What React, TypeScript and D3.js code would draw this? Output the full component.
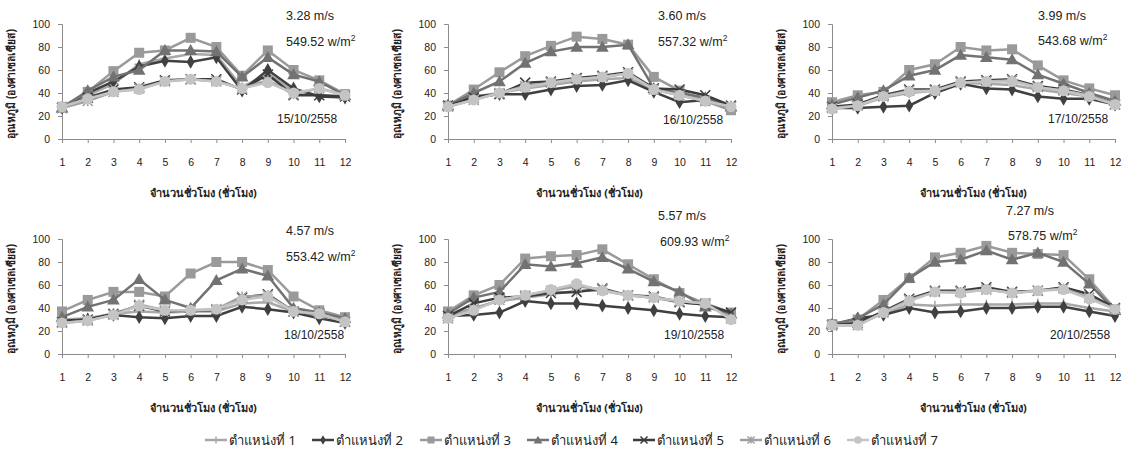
import React, { useEffect, useRef } from 'react';
import * as d3 from 'd3';

const hours = [1, 2, 3, 4, 5, 6, 7, 8, 9, 10, 11, 12];
const yTicks = [0, 20, 40, 60, 80, 100];
const seriesNames = ['ตำแหน่งที่ 1', 'ตำแหน่งที่ 2', 'ตำแหน่งที่ 3', 'ตำแหน่งที่ 4', 'ตำแหน่งที่ 5', 'ตำแหน่งที่ 6', 'ตำแหน่งที่ 7'];
const dates = ['15/10/2558', '16/10/2558', '17/10/2558', '18/10/2558', '19/10/2558', '20/10/2558'];
const windSpeeds = ['3.28', '3.60', '3.99', '4.57', '5.57', '7.27'];
const radiation = ['549.52', '557.32', '543.68', '553.42', '609.93', '578.75'];

// each day: 7 series (position 1..7), 12 hourly values
const day1 = [
  [27, 38, 48, 65, 70, 74, 73, 45, 57, 42, 38, 37],
  [27, 40, 50, 63, 68, 67, 71, 42, 60, 44, 37, 36],
  [28, 41, 59, 75, 77, 88, 80, 55, 77, 60, 51, 39],
  [27, 42, 54, 60, 77, 77, 76, 54, 71, 56, 50, 38],
  [27, 36, 43, 45, 51, 52, 52, 43, 56, 38, 38, 37],
  [27, 33, 41, 44, 50, 52, 50, 44, 51, 39, 44, 38],
  [28, 35, 41, 43, 50, 52, 50, 44, 49, 40, 44, 38],
];
const day2 = [
  [29, 37, 40, 44, 47, 50, 52, 53, 43, 40, 35, 29],
  [29, 37, 39, 39, 43, 46, 47, 51, 41, 32, 34, 27],
  [29, 43, 58, 72, 81, 89, 87, 82, 54, 42, 33, 25],
  [29, 40, 50, 66, 76, 80, 80, 82, 44, 40, 36, 28],
  [29, 36, 39, 49, 50, 53, 55, 58, 44, 43, 38, 29],
  [28, 34, 40, 46, 49, 52, 54, 57, 43, 38, 33, 28],
  [28, 34, 40, 45, 49, 52, 54, 57, 43, 38, 33, 28],
];
const day3 = [
  [28, 29, 36, 40, 42, 49, 48, 47, 43, 40, 37, 31],
  [27, 27, 28, 29, 40, 48, 44, 43, 37, 35, 35, 30],
  [32, 38, 41, 60, 65, 80, 77, 78, 64, 51, 44, 38],
  [30, 36, 42, 55, 60, 73, 71, 69, 56, 48, 40, 33],
  [28, 30, 38, 43, 43, 50, 51, 52, 46, 43, 38, 30],
  [27, 29, 37, 42, 42, 49, 50, 51, 45, 42, 38, 30],
  [26, 29, 37, 41, 42, 49, 50, 50, 45, 42, 37, 30],
];
const day4 = [
  [30, 31, 35, 37, 36, 37, 37, 44, 45, 37, 34, 29],
  [29, 30, 34, 32, 31, 33, 33, 41, 39, 36, 31, 27],
  [37, 47, 54, 54, 50, 70, 80, 80, 73, 50, 38, 32],
  [32, 41, 47, 65, 47, 40, 64, 74, 68, 40, 36, 31],
  [28, 30, 35, 42, 37, 38, 38, 49, 52, 37, 35, 28],
  [27, 29, 34, 43, 38, 38, 39, 50, 51, 37, 35, 28],
  [27, 29, 34, 42, 38, 38, 39, 47, 50, 37, 35, 28],
];
const day5 = [
  [33, 40, 46, 49, 52, 55, 55, 51, 49, 45, 43, 34],
  [33, 34, 36, 46, 44, 44, 42, 40, 38, 35, 33, 32],
  [37, 51, 60, 83, 85, 86, 91, 78, 65, 53, 44, 36],
  [35, 49, 54, 78, 76, 79, 84, 74, 63, 54, 41, 35],
  [33, 44, 49, 50, 53, 54, 57, 51, 50, 45, 43, 36],
  [31, 39, 47, 51, 55, 59, 56, 51, 49, 46, 44, 31],
  [31, 38, 47, 51, 56, 61, 55, 51, 49, 46, 44, 30],
];
const day6 = [
  [25, 29, 35, 43, 42, 43, 43, 43, 44, 44, 40, 37],
  [25, 31, 34, 40, 36, 37, 40, 40, 41, 41, 37, 33],
  [26, 30, 47, 66, 84, 88, 94, 88, 87, 86, 65, 39],
  [26, 31, 43, 66, 80, 82, 90, 82, 88, 80, 61, 38],
  [25, 27, 37, 48, 55, 55, 58, 54, 55, 58, 52, 40],
  [25, 25, 36, 47, 54, 54, 56, 53, 55, 57, 49, 39],
  [25, 25, 36, 46, 54, 53, 56, 53, 55, 56, 48, 39],
];
const days = [day1, day2, day3, day4, day5, day6];

const colors = ['#a8a8a8', '#404040', '#9a9a9a', '#727272', '#3c3c3c', '#a0a0a0', '#c4c4c4'];
const markers = ['plus', 'diamond', 'square', 'triangle', 'x', 'star', 'circle'];

const W = 1126;
const H = 452;
const panelLeft = [62, 448, 832];
const panelTop = [24, 239];
const pw = 283;
const ph = 115;

// text anchor spots (page px) for the notes inside each panel
const speedPos = [[286, 20], [658, 20], [1038, 20], [286, 235], [658, 220], [1006, 215]];
const radPos = [[286, 46], [658, 46], [1038, 45], [286, 261], [660, 246], [1008, 240]];
const datePos = [[277, 123], [663, 124], [1048, 123], [284, 339], [664, 339], [1050, 339]];

function drawMarker(g: any, type: string, x: number, y: number, color: string, s = 1) {
  if (type === 'square') {
    g.append('rect').attr('x', x - 5 * s).attr('y', y - 5 * s).attr('width', 10 * s).attr('height', 10 * s).attr('fill', color);
  } else if (type === 'diamond') {
    g.append('path').attr('d', d3.symbol(d3.symbolDiamond, 55 * s * s)()).attr('transform', `translate(${x},${y})`).attr('fill', color);
  } else if (type === 'triangle') {
    g.append('path').attr('d', d3.symbol(d3.symbolTriangle, 70 * s * s)()).attr('transform', `translate(${x},${y + 1})`).attr('fill', color);
  } else if (type === 'circle') {
    g.append('circle').attr('cx', x).attr('cy', y).attr('r', 5.5 * s).attr('fill', color);
  } else if (type === 'plus') {
    const r = 5 * s;
    g.append('path').attr('d', `M${x - r},${y}H${x + r}M${x},${y - r}V${y + r}`).attr('stroke', color).attr('stroke-width', 1.5);
  } else if (type === 'x') {
    const r = 5 * s;
    g.append('path').attr('d', `M${x - r},${y - r}L${x + r},${y + r}M${x - r},${y + r}L${x + r},${y - r}`).attr('stroke', color).attr('stroke-width', 1.5);
  } else if (type === 'star') {
    const r = 5 * s;
    g.append('path').attr('d', `M${x - r},${y - r}L${x + r},${y + r}M${x - r},${y + r}L${x + r},${y - r}M${x},${y - r}V${y + r}`).attr('stroke', color).attr('stroke-width', 1.5);
  }
}

const App = () => {
  const ref = useRef<SVGSVGElement>(null);

  useEffect(() => {
    const svg = d3.select(ref.current);
    svg.selectAll('*').remove();
    svg.attr('width', W).attr('height', H);

    days.forEach((day, i) => {
      const left = panelLeft[i % 3];
      const top = panelTop[Math.floor(i / 3)];
      const x = d3.scalePoint<number>().domain(hours).range([left, left + pw]);
      const y = d3.scaleLinear().domain([0, 100]).range([top + ph, top]);
      const g = svg.append('g');

      // y axis
      g.append('g')
        .attr('transform', `translate(${left},0)`)
        .call(d3.axisLeft(y).tickValues(yTicks).tickSize(4).tickPadding(8))
        .call((a: any) => a.selectAll('line,path').attr('stroke', '#8c8c8c'))
        .call((a: any) => a.selectAll('text').attr('font-size', 10.5).attr('font-family', 'Liberation Sans, Arial, sans-serif').attr('fill', '#222'));

      // x axis
      g.append('g')
        .attr('transform', `translate(0,${top + ph})`)
        .call(d3.axisBottom(x).tickSize(4).tickPadding(16).tickSizeOuter(0))
        .call((a: any) => a.selectAll('line,path').attr('stroke', '#8c8c8c'))
        .call((a: any) => a.selectAll('text').attr('font-size', 10.5).attr('font-family', 'Liberation Sans, Arial, sans-serif').attr('fill', '#222'));

      // axis titles
      g.append('text')
        .attr('x', left + pw / 2)
        .attr('y', top + ph + 58)
        .attr('text-anchor', 'middle')
        .attr('font-size', 11)
        .attr('font-weight', 'bold')
        .attr('font-family', 'Noto Sans, Liberation Sans, sans-serif')
        .attr('fill', '#222')
        .text('จำนวนชั่วโมง (ชั่วโมง)');
      g.append('text')
        .attr('transform', `translate(${left - 47},${top + 60}) rotate(-90)`)
        .attr('text-anchor', 'middle')
        .attr('font-size', 11.5)
        .attr('font-weight', 'bold')
        .attr('font-family', 'Noto Sans, Liberation Sans, sans-serif')
        .attr('fill', '#222')
        .attr('textLength', 110)
        .attr('lengthAdjust', 'spacingAndGlyphs')
        .text('อุณหภูมิ (องศาเซลเซียส)');

      const line = d3.line<number>().x((_, k) => x(hours[k]) as number).y((v) => y(v));
      day.forEach((vals, si) => {
        g.append('path').datum(vals).attr('d', line).attr('fill', 'none').attr('stroke', colors[si]).attr('stroke-width', 2.5);
        vals.forEach((v, k) => drawMarker(g, markers[si], x(hours[k]) as number, y(v), colors[si]));
      });

      // notes
      const ann = g.append('g').attr('font-family', 'Liberation Sans, Arial, sans-serif').attr('font-size', 12.5).attr('fill', '#222');
      ann.append('text').attr('x', speedPos[i][0]).attr('y', speedPos[i][1]).text(`${windSpeeds[i]} m/s`);
      const wt = ann.append('text').attr('x', radPos[i][0]).attr('y', radPos[i][1]);
      wt.append('tspan').text(`${radiation[i]} w/m`);
      wt.append('tspan').attr('dy', -5).attr('font-size', 8.5).text('2');
      ann.append('text')
        .attr('x', datePos[i][0])
        .attr('y', datePos[i][1])
        .attr('font-size', 12)
        .text(dates[i]);
    });

    // legend
    const lx = [205, 312, 420, 527, 633, 740, 847];
    const lg = svg.append('g');
    seriesNames.forEach((name, si) => {
      const x0 = lx[si];
      const yy = 440;
      lg.append('line').attr('x1', x0).attr('x2', x0 + 22).attr('y1', yy).attr('y2', yy).attr('stroke', colors[si]).attr('stroke-width', 2.5);
      drawMarker(lg, markers[si], x0 + 11, yy, colors[si], 0.7);
      lg.append('text')
        .attr('x', x0 + 24)
        .attr('y', yy + 5)
        .attr('font-size', 13)
        .attr('font-family', 'Noto Sans, Liberation Sans, sans-serif')
        .attr('fill', '#222')
        .text(name);
    });
  }, []);

  return (
    <div style={{ position: 'absolute', left: 0, top: 0 }}>
      <svg ref={ref}></svg>
    </div>
  );
};

export default App;
